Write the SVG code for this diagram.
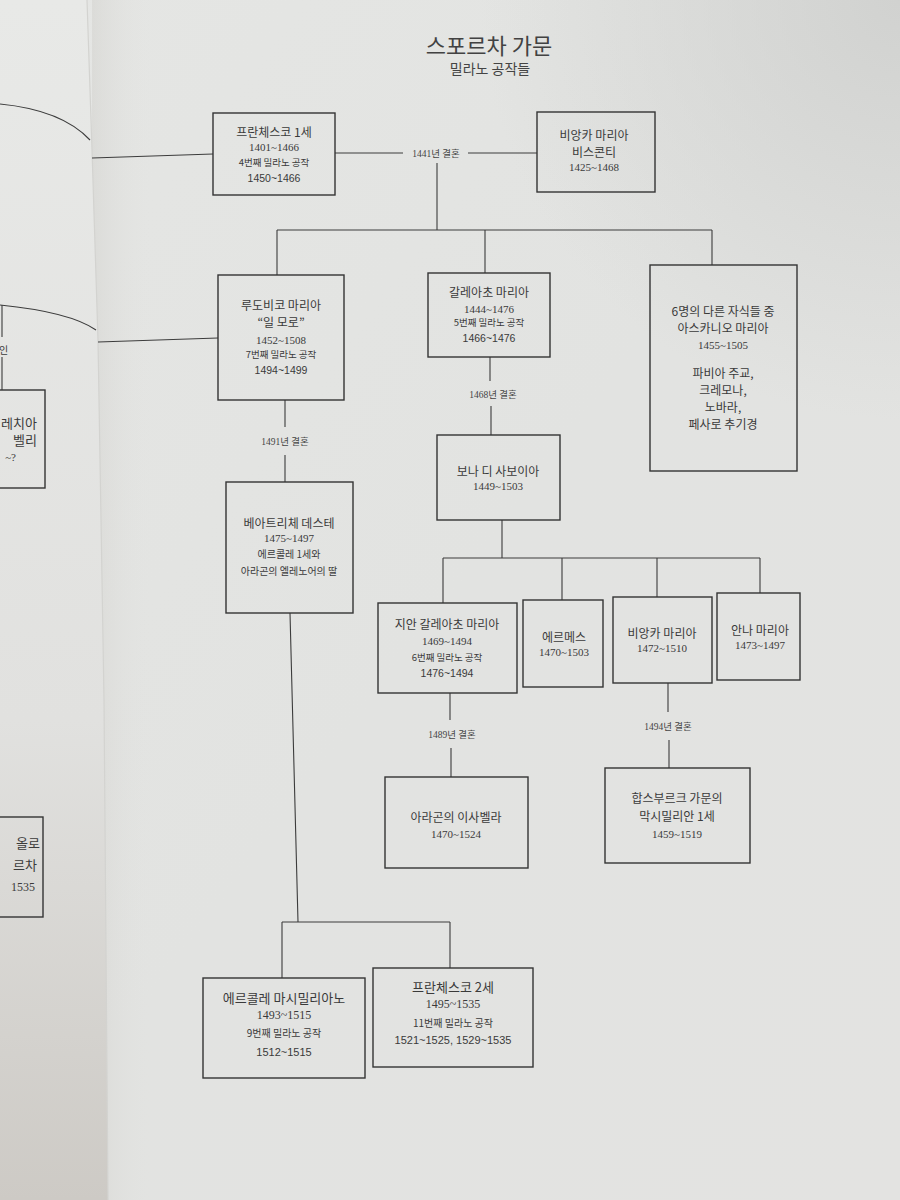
<svg xmlns="http://www.w3.org/2000/svg" width="900" height="1200" viewBox="0 0 900 1200">
<defs>
<linearGradient id="pg" x1="0" y1="0" x2="1" y2="1">
<stop offset="0" stop-color="#e5e6e4"/>
<stop offset="0.5" stop-color="#e2e3e1"/>
<stop offset="1" stop-color="#e3e3e1"/>
</linearGradient>
<radialGradient id="tr" cx="900" cy="0" r="420" gradientUnits="userSpaceOnUse">
<stop offset="0" stop-color="#cfd0ce" stop-opacity="0.9"/>
<stop offset="1" stop-color="#cfd0ce" stop-opacity="0"/>
</radialGradient>
<linearGradient id="lp" x1="0" y1="0" x2="0" y2="1">
<stop offset="0" stop-color="#e8e9e7"/>
<stop offset="0.6" stop-color="#e1e1df"/>
<stop offset="1" stop-color="#cdcac5"/>
</linearGradient>
<linearGradient id="gut" x1="0" y1="0" x2="1" y2="0">
<stop offset="0" stop-color="#d2d1cd" stop-opacity="0.5"/>
<stop offset="1" stop-color="#e3e3e1" stop-opacity="0"/>
</linearGradient>
</defs>
<style>
.box{fill:none;stroke:#343434;stroke-width:1.4}
.ln{fill:none;stroke:#3c3c3c;stroke-width:1.1}
text{fill:#3a3a3a;text-anchor:middle}
.t1{font-family:"Noto Sans CJK KR","Noto Sans",sans-serif;font-size:22px;fill:#424242}
.t2{font-family:"Noto Sans CJK KR","Noto Sans",sans-serif;font-size:14px;fill:#444}
.nm{font-family:"Noto Sans CJK KR","Noto Sans",sans-serif;font-size:12px}
.nb{font-family:"Noto Sans CJK KR","Noto Sans",sans-serif;font-size:13px}
.dt{font-family:"Liberation Serif","Noto Sans CJK KR",serif;font-size:11px}
.db{font-family:"Liberation Serif","Noto Sans CJK KR",serif;font-size:12px}
.ds{font-family:"Noto Sans CJK KR","Noto Sans",sans-serif;font-size:9.5px}
.dsb{font-family:"Noto Sans CJK KR","Noto Sans",sans-serif;font-size:10px}
.dn{font-family:"Liberation Sans","Noto Sans CJK KR",sans-serif;font-size:10.5px}
.dnb{font-family:"Liberation Sans","Noto Sans CJK KR",sans-serif;font-size:11px}
.mr{font-family:"Liberation Serif","Noto Sans CJK KR",serif;font-size:9.5px;fill:#444}
.lt{font-family:"Noto Sans CJK KR","Noto Sans",sans-serif;font-size:13px;text-anchor:end}
</style>

<!-- page background -->
<rect x="0" y="0" width="900" height="1200" fill="url(#pg)"/>
<rect x="0" y="0" width="900" height="1200" fill="url(#tr)"/>
<rect x="92" y="0" width="60" height="1200" fill="url(#gut)"/>
<polygon points="0,0 87,0 92,150 98,340 104,700 108,1200 0,1200" fill="url(#lp)"/>
<polyline points="87,0 92,150 98,340 104,700 108,1200" fill="none" stroke="#d3d3d0" stroke-width="1.2"/>

<!-- left page fragments -->
<g id="left-page">
<path class="ln" d="M0,104 Q62,110 90,140"/>
<path class="ln" d="M0,305 Q70,312 96,330"/>
<path class="ln" d="M2,305 V337 M2,357 V390"/>
<text class="dsb" x="-1" y="354" style="text-anchor:start">인</text>
<rect class="box" x="-5" y="390" width="50" height="98"/>
<text class="lt" x="37" y="428">레치아</text>
<text class="lt" x="37" y="445">벨리</text>
<text class="lt" x="16" y="461" style="font-family:'Liberation Serif',serif;font-size:11px">~?</text>
<rect class="box" x="-5" y="817" width="48" height="100"/>
<text class="lt" x="40" y="848">올로</text>
<text class="lt" x="37" y="870">르차</text>
<text class="lt" x="35" y="891" style="font-family:'Liberation Serif',serif;font-size:12px">1535</text>
</g>

<!-- title -->
<g id="title">
<text class="t1" x="489" y="54">스포르차 가문</text>
<text class="t2" x="490" y="74">밀라노 공작들</text>
</g>

<!-- connectors -->
<g id="connectors">
<path class="ln" d="M92,158 L213,154"/>
<path class="ln" d="M98,342 L218,338"/>
<path class="ln" d="M335,153 H403 M468,153 H537"/>
<path class="ln" d="M437,163 V230"/>
<path class="ln" d="M277,230 H712 M277,230 V275 M485,230 V273 M712,230 V265"/>
<path class="ln" d="M285,400 V427 M285,455 V482"/>
<path class="ln" d="M490,357 V381 M491,406 V435"/>
<path class="ln" d="M502,520 V558 M443,558 H760 M443,558 V603 M562,558 V600 M657,558 V597 M760,558 V593"/>
<path class="ln" d="M450,693 V720 M451,748 V777"/>
<path class="ln" d="M668,683 V712 M669,740 V768"/>
<path class="ln" d="M290,613 L298,922 M282,922 H450 M282,922 V978 M450,922 V968"/>
<text class="mr" x="436" y="156.5">1441년 결혼</text>
<text class="mr" x="285" y="444.5">1491년 결혼</text>
<text class="mr" x="493" y="398">1468년 결혼</text>
<text class="mr" x="452" y="737.5">1489년 결혼</text>
<text class="mr" x="668" y="730">1494년 결혼</text>
</g>

<g id="francesco1">
<rect class="box" x="213" y="113" width="122" height="82"/>
<text class="nm" x="274" y="136.5">프란체스코 1세</text>
<text class="dt" x="274" y="150.5">1401~1466</text>
<text class="ds" x="274" y="165.5">4번째 밀라노 공작</text>
<text class="dn" x="274" y="182">1450~1466</text>
</g>

<g id="bianca-visconti">
<rect class="box" x="537" y="112" width="118" height="80"/>
<text class="nm" x="594" y="140">비앙카 마리아</text>
<text class="nm" x="594" y="157">비스콘티</text>
<text class="dt" x="594" y="171">1425~1468</text>
</g>

<g id="ludovico">
<rect class="box" x="218" y="275" width="126" height="125"/>
<text class="nm" x="281" y="309.5">루도비코 마리아</text>
<text class="nm" x="281" y="326.5">“일 모로”</text>
<text class="dt" x="281" y="344">1452~1508</text>
<text class="ds" x="281" y="357.5">7번째 밀라노 공작</text>
<text class="dn" x="281" y="374">1494~1499</text>
</g>

<g id="galeazzo">
<rect class="box" x="428" y="273" width="122" height="84"/>
<text class="nm" x="489" y="296.5">갈레아초 마리아</text>
<text class="dt" x="489" y="312.5">1444~1476</text>
<text class="ds" x="489" y="325.5">5번째 밀라노 공작</text>
<text class="dn" x="489" y="342">1466~1476</text>
</g>

<g id="ascanio">
<rect class="box" x="650" y="265" width="147" height="206"/>
<text class="nm" x="723" y="315.5">6명의 다른 자식들 중</text>
<text class="nm" x="723" y="332.5">아스카니오 마리아</text>
<text class="dt" x="723" y="348.5">1455~1505</text>
<text class="nm" x="723" y="378">파비아 주교,</text>
<text class="nm" x="723" y="395">크레모나,</text>
<text class="nm" x="723" y="412">노바라,</text>
<text class="nm" x="723" y="429">페사로 추기경</text>
</g>

<g id="bona">
<rect class="box" x="437" y="435" width="123" height="85"/>
<text class="nm" x="498" y="475.5">보나 디 사보이아</text>
<text class="dt" x="498" y="489.5">1449~1503</text>
</g>

<g id="beatrice">
<rect class="box" x="226" y="482" width="127" height="131"/>
<text class="nm" x="289" y="527.5">베아트리체 데스테</text>
<text class="dt" x="289" y="541.5">1475~1497</text>
<text class="dsb" x="289" y="557.5">에르콜레 1세와</text>
<text class="dsb" x="289" y="574.5">아라곤의 엘레노어의 딸</text>
</g>

<g id="gian-galeazzo">
<rect class="box" x="378" y="603" width="139" height="90"/>
<text class="nm" x="447" y="628.5">지안 갈레아초 마리아</text>
<text class="dt" x="447" y="644.5">1469~1494</text>
<text class="ds" x="447" y="660.5">6번째 밀라노 공작</text>
<text class="dn" x="447" y="677">1476~1494</text>
</g>

<g id="ermes">
<rect class="box" x="523" y="600" width="80" height="87"/>
<text class="nm" x="564" y="641.5">에르메스</text>
<text class="dt" x="564" y="655.5">1470~1503</text>
</g>

<g id="bianca-maria">
<rect class="box" x="613" y="597" width="99" height="86"/>
<text class="nm" x="662" y="637.5">비앙카 마리아</text>
<text class="dt" x="662" y="651.5">1472~1510</text>
</g>

<g id="anna">
<rect class="box" x="717" y="593" width="83" height="87"/>
<text class="nm" x="760" y="634.5">안나 마리아</text>
<text class="dt" x="760" y="648.5">1473~1497</text>
</g>

<g id="isabella">
<rect class="box" x="385" y="777" width="143" height="91"/>
<text class="nm" x="456" y="821.5">아라곤의 이사벨라</text>
<text class="dt" x="456" y="837.5">1470~1524</text>
</g>

<g id="maximilian">
<rect class="box" x="605" y="768" width="145" height="95"/>
<text class="nm" x="677" y="802.5">합스부르크 가문의</text>
<text class="nm" x="677" y="820.5">막시밀리안 1세</text>
<text class="dt" x="677" y="837.5">1459~1519</text>
</g>

<g id="ercole">
<rect class="box" x="203" y="978" width="162" height="100"/>
<text class="nb" x="284" y="1002.5">에르콜레 마시밀리아노</text>
<text class="db" x="284" y="1019">1493~1515</text>
<text class="dsb" x="284" y="1036.5">9번째 밀라노 공작</text>
<text class="dnb" x="284" y="1056">1512~1515</text>
</g>

<g id="francesco2">
<rect class="box" x="373" y="968" width="160" height="99"/>
<text class="nb" x="453" y="991.5">프란체스코 2세</text>
<text class="db" x="453" y="1008">1495~1535</text>
<text class="dsb" x="453" y="1026.5">11번째 밀라노 공작</text>
<text class="dnb" x="453" y="1044">1521~1525, 1529~1535</text>
</g>
</svg>
